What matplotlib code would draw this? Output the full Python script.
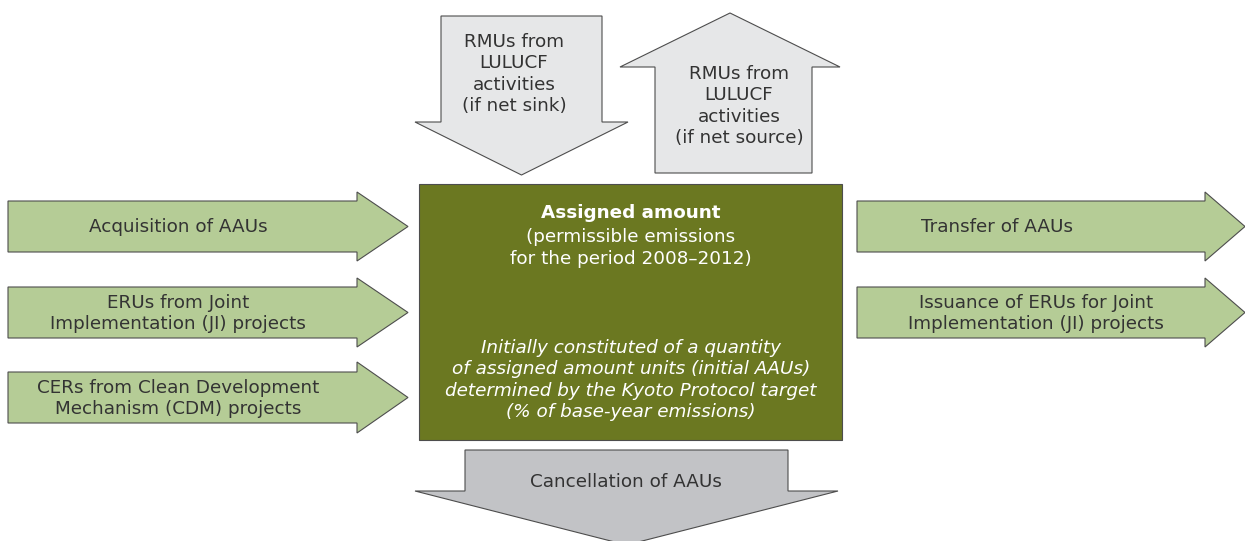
import matplotlib
matplotlib.use("Agg")
import matplotlib.pyplot as plt
from matplotlib.patches import Polygon, Rectangle

# ---- content ----
inflow_labels = ["Acquisition of AAUs",
                 "ERUs from Joint\nImplementation (JI) projects",
                 "CERs from Clean Development\nMechanism (CDM) projects"]
outflow_labels = ["Transfer of AAUs",
                  "Issuance of ERUs for Joint\nImplementation (JI) projects"]
sink_label = "RMUs from\nLULUCF\nactivities\n(if net sink)"
source_label = "RMUs from\nLULUCF\nactivities\n(if net source)"
box_title = "Assigned amount"
box_sub = "(permissible emissions\nfor the period 2008\u20132012)"
box_note = ("Initially constituted of a quantity\nof assigned amount units (initial AAUs)\n"
            "determined by the Kyoto Protocol target\n(% of base-year emissions)")
cancel_label = "Cancellation of AAUs"

GREEN = "#b5cc96"
LIGHT = "#e6e7e8"
GREY = "#c2c3c6"
OLIVE = "#6b7821"
EDGE = "#4d4d4d"
TXT = "#333333"
FS = 13.2
LS = 1.22

W, H = 1245, 541
fig = plt.figure(figsize=(W / 100, H / 100), dpi=100)
ax = fig.add_axes([0, 0, 1, 1])
ax.set_xlim(0, W)
ax.set_ylim(H, 0)
ax.axis("off")


def h_arrow(x0, x1, xtip, ys0, ys1, yh0, yh1, color):
    ymid = (yh0 + yh1) / 2
    pts = [(x0, ys0), (x1, ys0), (x1, yh0), (xtip, ymid), (x1, yh1), (x1, ys1), (x0, ys1)]
    ax.add_patch(Polygon(pts, closed=True, fc=color, ec=EDGE, lw=0.8))
    return ymid


def v_arrow(xs0, xs1, y0, y1, xh0, xh1, ytip, color):
    xmid = (xh0 + xh1) / 2
    pts = [(xs0, y0), (xs1, y0), (xs1, y1), (xh1, y1), (xmid, ytip), (xh0, y1), (xs0, y1)]
    ax.add_patch(Polygon(pts, closed=True, fc=color, ec=EDGE, lw=0.8))


# left inflow arrows
left_rows = [(201, 252, 192, 261), (287, 338, 278, 347), (372, 423, 362, 433)]
for lab, (s0, s1, h0, h1) in zip(inflow_labels, left_rows):
    h_arrow(8, 357, 408, s0, s1, h0, h1, GREEN)
    ax.text(178, (s0 + s1) / 2 + 1, lab, ha="center", va="center", fontsize=FS,
            color=TXT, linespacing=LS)

# right outflow arrows
right_rows = [(201, 252, 192, 261), (287, 338, 278, 347)]
text_x = [997, 1036]
for lab, tx, (s0, s1, h0, h1) in zip(outflow_labels, text_x, right_rows):
    h_arrow(857, 1205, 1245, s0, s1, h0, h1, GREEN)
    ax.text(tx, (s0 + s1) / 2 + 1, lab, ha="center", va="center", fontsize=FS,
            color=TXT, linespacing=LS)

# top arrows
v_arrow(441, 602, 16, 122, 415, 628, 175, LIGHT)
ax.text(514, 74, sink_label, ha="center", va="center", fontsize=FS, color=TXT,
        linespacing=LS)
v_arrow(655, 812, 173, 67, 620, 840, 13, LIGHT)
ax.text(739, 106, source_label, ha="center", va="center", fontsize=FS, color=TXT,
        linespacing=LS)

# central box
ax.add_patch(Rectangle((419, 184), 423, 256, fc=OLIVE, ec=EDGE, lw=0.8))
ax.text(631, 213, box_title, ha="center", va="center", fontsize=FS, color="white",
        fontweight="bold")
ax.text(631, 248, box_sub, ha="center", va="center", fontsize=FS, color="white",
        linespacing=LS)
ax.text(631, 380, box_note, ha="center", va="center", fontsize=FS, color="white",
        style="italic", linespacing=LS)

# bottom arrow
v_arrow(465, 788, 450, 491, 415, 838, 545, GREY)
ax.text(626, 482, cancel_label, ha="center", va="center", fontsize=FS, color=TXT)

fig.savefig("out.png", dpi=100)
